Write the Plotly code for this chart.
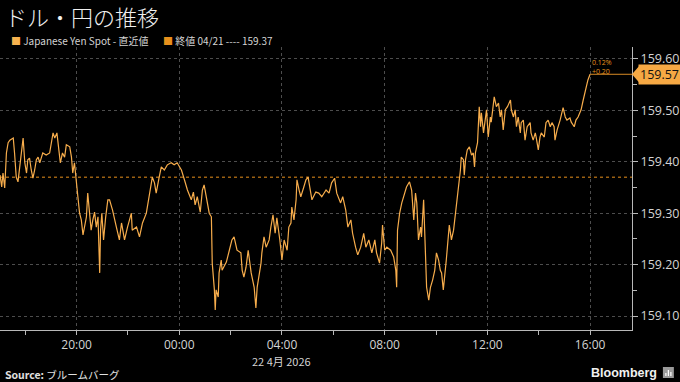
import pandas as pd
import plotly.graph_objects as go

# ---------------- data ----------------
title_text = "ドル・円の推移"
series_name = "Japanese Yen Spot - 直近値"
prev_close_label = "終値 04/21 ---- 159.37"
prev_close = 159.37
change_pct_text = "0.12%"
change_abs_text = "+0.20"
day_label = "22 4月 2026"
base_day = "2026-04-22 00:00"

# minutes relative to 2026-04-22 00:00 (JST)
minutes = [
    -419, -415, -412, -408, -404, -400, -396, -388, -385, -381,
    -377, -373, -369, -365, -361, -357, -354, -350, -346, -342,
    -338, -334, -330, -326, -322, -319, -311, -303, -295, -291,
    -286, -281, -278, -273, -268, -264, -256, -252, -249, -245,
    -241, -237, -233, -229, -225, -221, -217, -214, -210, -206,
    -202, -198, -194, -190, -186, -184, -181, -177, -172, -167,
    -163, -156, -147, -140, -135, -128, -121, -112, -110, -100,
    -93, -86, -77, -70, -63, -58, -54, -47, -42, -35,
    -28, -19, -12, -5, 5, 12, 19, 28, 33, 37,
    42, 49, 54, 58, 63, 70, 75, 77, 82, 84,
    86, 91, 93, 98, 100, 110, 117, 123, 128, 135,
    144, 147, 151, 156, 161, 168, 175, 179, 182, 186,
    191, 193, 198, 203, 210, 214, 219, 224, 228, 235,
    240, 245, 252, 256, 261, 263, 268, 273, 275, 280,
    284, 291, 296, 301, 308, 310, 319, 326, 333, 343,
    350, 356, 363, 368, 377, 382, 389, 394, 401, 405,
    412, 417, 424, 431, 436, 443, 450, 457, 461, 468,
    473, 475, 480, 485, 494, 501, 506, 508, 510, 515,
    520, 527, 531, 538, 543, 548, 552, 555, 559, 564,
    566, 571, 575, 578, 583, 587, 592, 597, 601, 606,
    610, 613, 617, 622, 624, 631, 636, 641, 645, 648,
    652, 657, 659, 664, 666, 669, 673, 678, 683, 687,
    690, 692, 697, 701, 704, 706, 711, 715, 718, 722,
    727, 729, 736, 741, 746, 750, 753, 757, 762, 767,
    774, 776, 781, 785, 788, 792, 797, 799, 804, 808,
    813, 820, 822, 827, 832, 834, 839, 843, 846, 853,
    857, 862, 867, 871, 876, 878, 883, 890, 893, 897,
    902, 906, 913, 916, 923, 927, 932, 939, 944, 948,
    951, 955, 960,
]

prices = [
    159.374, 159.351, 159.378, 159.349, 159.417, 159.437, 159.442, 159.446, 159.417, 159.370,
    159.361, 159.390, 159.417, 159.446, 159.398, 159.378, 159.404, 159.407, 159.384, 159.368,
    159.384, 159.404, 159.409, 159.398, 159.409, 159.417, 159.413, 159.417, 159.456, 159.446,
    159.456, 159.417, 159.398, 159.417, 159.409, 159.433, 159.429, 159.409, 159.378, 159.398,
    159.370, 159.332, 159.300, 159.287, 159.258, 159.273, 159.293, 159.339, 159.306, 159.267,
    159.287, 159.302, 159.273, 159.293, 159.184, 159.267, 159.300, 159.248, 159.293, 159.326,
    159.326, 159.306, 159.273, 159.248, 159.281, 159.248, 159.273, 159.300, 159.267, 159.273,
    159.254, 159.281, 159.300, 159.339, 159.370, 159.359, 159.339, 159.370, 159.390, 159.384,
    159.394, 159.398, 159.394, 159.398, 159.384, 159.365, 159.345, 159.326, 159.341, 159.316,
    159.332, 159.302, 159.345, 159.355, 159.332, 159.300, 159.293, 159.203, 159.151, 159.112,
    159.151, 159.137, 159.184, 159.209, 159.189, 159.205, 159.228, 159.248, 159.254, 159.228,
    159.223, 159.189, 159.176, 159.195, 159.228, 159.184, 159.156, 159.116, 159.156, 159.176,
    159.203, 159.223, 159.254, 159.234, 159.248, 159.273, 159.297, 159.261, 159.291, 159.248,
    159.209, 159.248, 159.228, 159.273, 159.281, 159.312, 159.287, 159.326, 159.365, 159.345,
    159.332, 159.351, 159.365, 159.370, 159.339, 159.326, 159.341, 159.339, 159.332, 159.345,
    159.339, 159.359, 159.368, 159.339, 159.320, 159.332, 159.306, 159.273, 159.287, 159.261,
    159.234, 159.219, 159.234, 159.261, 159.234, 159.248, 159.223, 159.248, 159.223, 159.203,
    159.242, 159.277, 159.228, 159.234, 159.228, 159.215, 159.189, 159.156, 159.267, 159.300,
    159.320, 159.339, 159.351, 159.361, 159.345, 159.287, 159.339, 159.320, 159.248, 159.273,
    159.254, 159.326, 159.203, 159.156, 159.131, 159.156, 159.170, 159.189, 159.223, 159.209,
    159.189, 159.184, 159.151, 159.189, 159.209, 159.277, 159.248, 159.267, 159.297, 159.312,
    159.345, 159.384, 159.409, 159.404, 159.374, 159.404, 159.423, 159.429, 159.413, 159.417,
    159.390, 159.417, 159.437, 159.507, 159.468, 159.495, 159.456, 159.487, 159.501, 159.448,
    159.487, 159.477, 159.526, 159.507, 159.514, 159.487, 159.501, 159.462, 159.501, 159.507,
    159.520, 159.501, 159.487, 159.501, 159.468, 159.487, 159.456, 159.476, 159.481, 159.442,
    159.468, 159.476, 159.456, 159.442, 159.456, 159.448, 159.423, 159.448, 159.456, 159.448,
    159.476, 159.481, 159.468, 159.476, 159.468, 159.442, 159.462, 159.481, 159.491, 159.505,
    159.487, 159.481, 159.485, 159.477, 159.468, 159.481, 159.487, 159.501, 159.520, 159.534,
    159.549, 159.559, 159.570,
]

x_tick_times = ["2026-04-21 20:00", "2026-04-22 00:00", "2026-04-22 04:00",
                "2026-04-22 08:00", "2026-04-22 12:00", "2026-04-22 16:00"]
x_tick_labels = ["20:00", "00:00", "04:00", "08:00", "12:00", "16:00"]
y_tick_values = [159.10, 159.20, 159.30, 159.40, 159.50, 159.60]
x_range = ["2026-04-21 17:01", "2026-04-22 17:38"]
y_range = [159.073, 159.623]

assert len(minutes) == len(prices), (len(minutes), len(prices))

# ---------------- styling ----------------
LINE = "#f7ad4c"
ORANGE = "#e8901c"
GRID = "#4d4d4d"
AXIS = "#b8b8b8"
TXT = "#d4d4d4"
FONT = "Open Sans, Noto Sans CJK JP, sans-serif"
JP = "Noto Sans CJK JP, sans-serif"

times = pd.Timestamp(base_day) + pd.to_timedelta(minutes, unit="min")
last_time = times[-1]
last_price = prices[-1]

W, H = 680, 382
L, R, T, B = 0, 46, 47, 52
PW, PH = W - L - R, H - T - B


def px(x):
    return (x - L) / PW


def py(y):
    return (H - B - y) / PH


fig = go.Figure()

fig.add_trace(go.Scatter(
    x=times, y=prices, mode="lines",
    line=dict(color=LINE, width=1.2),
    hoverinfo="skip", showlegend=False,
))
# last value extension line
fig.add_trace(go.Scatter(
    x=[last_time, pd.Timestamp(x_range[1])], y=[last_price, last_price],
    mode="lines", line=dict(color="#d98a25", width=1),
    hoverinfo="skip", showlegend=False,
))

# previous close dotted line
fig.add_shape(type="line", xref="paper", yref="y", x0=0, x1=1,
              y0=prev_close, y1=prev_close,
              line=dict(color=ORANGE, width=1, dash="dot"), layer="below")

# last-value tag arrow
dy = 8 / PH * (y_range[1] - y_range[0])
fig.add_shape(type="path", xref="paper", yref="y",
              path=f"M 1.0 {last_price} L {px(641)} {last_price + dy} "
                   f"L {px(641)} {last_price - dy} Z",
              fillcolor="#f6a944", line=dict(width=0))

fig.add_annotation(xref="paper", yref="y", x=px(640), y=last_price,
                   xanchor="left", yanchor="middle", showarrow=False,
                   text=f"{last_price:.2f}", bgcolor="#f6a944",
                   font=dict(family=FONT, size=12.5, color="#111"),
                   borderpad=1)

# change annotations
fig.add_annotation(xref="x", yref="paper", x=last_time, y=py(63),
                   xanchor="left", yanchor="middle", showarrow=False,
                   text=change_pct_text, font=dict(family=FONT, size=7, color=ORANGE))
fig.add_annotation(xref="x", yref="paper", x=last_time, y=py(71),
                   xanchor="left", yanchor="middle", showarrow=False,
                   text=change_abs_text, font=dict(family=FONT, size=7, color=ORANGE))

# title
fig.add_annotation(xref="paper", yref="paper", x=px(3), y=py(16),
                   xanchor="left", yanchor="middle", showarrow=False,
                   text=title_text,
                   font=dict(family=JP, size=22, color="#f0f0f0", weight=300))

# legend
fig.add_annotation(xref="paper", yref="paper", x=px(9), y=py(40),
                   xanchor="left", yanchor="middle", showarrow=False,
                   text=f"<span style='color:#f7b24f'>■</span> {series_name}",
                   font=dict(family=JP, size=10, color=TXT))
fig.add_annotation(xref="paper", yref="paper", x=px(162), y=py(40),
                   xanchor="left", yanchor="middle", showarrow=False,
                   text=f"<span style='color:{ORANGE}'>■</span> {prev_close_label}",
                   font=dict(family=JP, size=10, color=TXT))

# date label under axis
fig.add_annotation(xref="x", yref="paper", x=x_tick_times[2], y=py(361),
                   xanchor="center", yanchor="middle", showarrow=False,
                   text=day_label, font=dict(family=JP, size=11, color=TXT))

# footer
fig.add_annotation(xref="paper", yref="paper", x=px(3), y=py(374),
                   xanchor="left", yanchor="middle", showarrow=False,
                   text="<b>Source:</b> ブルームバーグ",
                   font=dict(family=JP, size=10.5, color="#e0e0e0"))
fig.add_annotation(xref="paper", yref="paper", x=px(661), y=py(373),
                   xanchor="right", yanchor="middle", showarrow=False,
                   text="<b>Bloomberg</b>",
                   font=dict(family="Liberation Sans, Arial, sans-serif", size=12.5, color="#f0f0f0"))
fig.add_shape(type="rect", xref="paper", yref="paper",
              x0=px(665), x1=px(676), y0=py(378), y1=py(367),
              fillcolor="#9a9a9a", line=dict(width=0))
for bx, top in [(668, 373), (670.5, 370), (673, 372)]:
    fig.add_shape(type="line", xref="paper", yref="paper",
                  x0=px(bx), x1=px(bx), y0=py(376), y1=py(top),
                  line=dict(color="#ffffff", width=1.2))

fig.update_layout(
    width=W, height=H,
    margin=dict(l=L, r=R, t=T, b=B),
    paper_bgcolor="#000000", plot_bgcolor="#000000",
    showlegend=False,
    font=dict(family=FONT, color=TXT),
    xaxis=dict(
        type="date", range=x_range,
        tickvals=x_tick_times, ticktext=x_tick_labels,
        tickfont=dict(family=FONT, size=12, color=TXT),
        showgrid=True, gridcolor=GRID, griddash="dot", gridwidth=1,
        showline=True, linecolor=AXIS, linewidth=1,
        ticks="outside", ticklen=4, tickcolor=AXIS,
        minor=dict(ticks="outside", ticklen=4, tickcolor=AXIS,
                   dtick=2 * 3600 * 1000, tick0="2026-04-21 18:00", showgrid=False),
        zeroline=False, fixedrange=True,
    ),
    yaxis=dict(
        side="right", range=y_range,
        tickvals=y_tick_values, ticktext=[f"{v:.2f}" for v in y_tick_values],
        tickfont=dict(family=FONT, size=12.5, color=TXT),
        showgrid=True, gridcolor=GRID, griddash="dot", gridwidth=1,
        showline=True, linecolor=AXIS, linewidth=1,
        ticks="outside", ticklen=5, tickcolor=AXIS,
        minor=dict(ticks="outside", ticklen=4, tickcolor=AXIS,
                   dtick=0.05, tick0=159.05, showgrid=False),
        zeroline=False, fixedrange=True,
    ),
)

fig.write_html("out.html")
